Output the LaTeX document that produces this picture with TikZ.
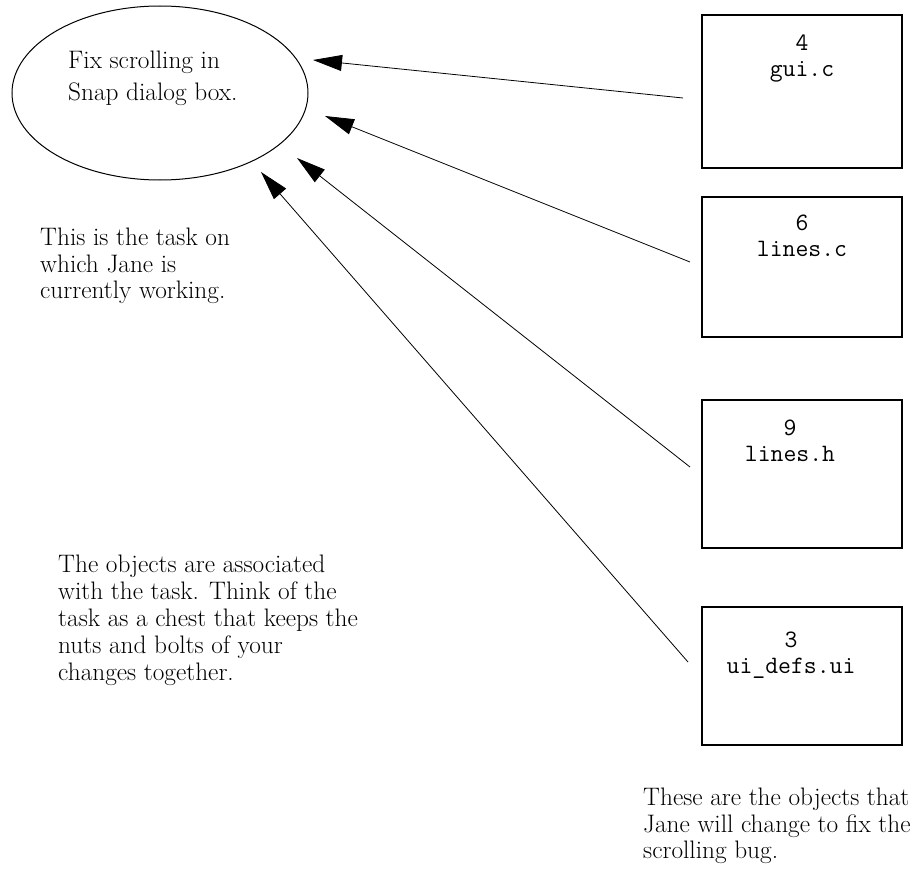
\documentclass[tikz,border=0pt]{standalone}
\usepackage{fontspec}
\usetikzlibrary{arrows.meta, positioning, shapes.geometric}

\begin{document}
\begin{tikzpicture}[
    x=1pt, y=-1pt,
    tasknode/.style={draw, ellipse, line width=1pt, minimum width=296pt,
                     minimum height=174pt, inner sep=0pt},
    objbox/.style={draw, rectangle, line width=1.6pt, minimum width=200pt,
                   inner sep=0pt},
    objlabel/.style={align=center, inner sep=0pt, anchor=north,
                     font=\fontsize{25}{26}\selectfont\ttfamily},
    note/.style={align=left, inner sep=0pt, anchor=north west,
                 font=\fontsize{25.3}{26.5}\selectfont},
    line/.style={draw, line width=0.8pt, -{Triangle[length=29pt, width=16pt]}}
]
    \useasboundingbox (0,0) rectangle (911,883);

    % the task
    \node[tasknode] (task) at (160,93) {};
    \node[note, font=\fontsize{25.3}{32}\selectfont] (tasktxt) at (68,51)
        {Fix scrolling in\\Snap dialog box.};

    % the objects
    \node[objbox, minimum height=153pt] (gui)    at (802,91.5) {};
    \node[objbox, minimum height=140pt] (linesc) at (802,267)  {};
    \node[objbox, minimum height=148pt] (linesh) at (802,474)  {};
    \node[objbox, minimum height=138pt] (uidefs) at (802,676)  {};

    \node[objlabel, below=20pt of gui.north]                  (guitxt)    {4\\gui.c};
    \node[objlabel, below=19pt of linesc.north]               (linesctxt) {6\\lines.c};
    \node[objlabel, below=21pt of linesh.north, xshift=-12pt] (lineshtxt) {9\\lines.h};
    \node[objlabel, below=26pt of uidefs.north, xshift=-11pt] (uidefstxt) {3\\ui\_defs.ui};

    % notes
    \node[note] (tasknote) at (40,228)
        {This is the task on\\which Jane is\\currently working.};
    \node[note, font=\fontsize{25.3}{27}\selectfont] (assocnote) at (58,555)
        {The objects are associated\\with the task. Think of the\\task as a chest that keeps the\\nuts and bolts of your\\changes together.};
    \node[note] (objnote) at (643,788)
        {These are the objects that\\Jane will change to fix the\\scrolling bug.};

    % arrow ends
    \coordinate (guitail)    at (683,98);
    \coordinate (guihead)    at (313,60);
    \coordinate (lineschead) at (325,116);
    \coordinate (linesctail) at (690,262);
    \coordinate (linesshead) at (297,158);
    \coordinate (lineshtail) at (690,467);
    \coordinate (uidefshead) at (261,172);
    \coordinate (uidefstail) at (688,662);

    \draw[line] (guitail)    -- (guihead);
    \draw[line] (linesctail) -- (lineschead);
    \draw[line] (lineshtail) -- (linesshead);
    \draw[line] (uidefstail) -- (uidefshead);

\end{tikzpicture}
\end{document}
